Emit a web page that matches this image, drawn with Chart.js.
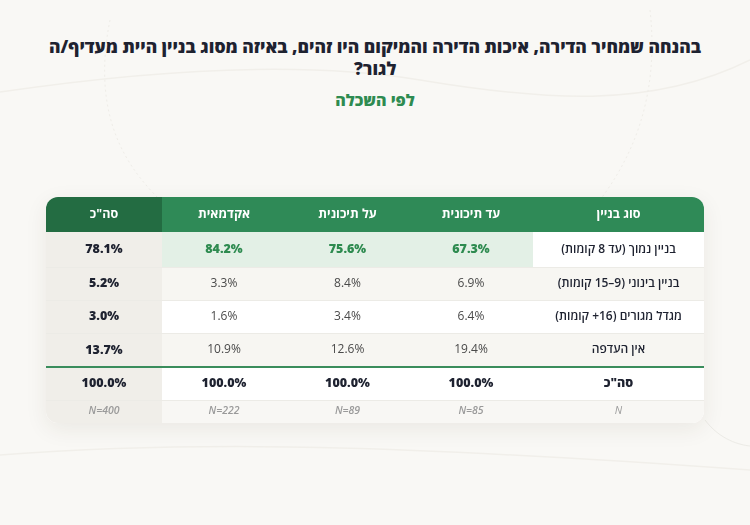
<!DOCTYPE html>
<html lang="he" dir="rtl">
<head>
<meta charset="utf-8">
<script src="https://cdn.jsdelivr.net/npm/chart.js@4.4.0/dist/chart.umd.min.js"></script>
<style>
  body { margin: 0; width: 750px; height: 525px; overflow: hidden; position: relative;
         background: #f9f8f5; font-family: 'Open Sans', 'DejaVu Sans', sans-serif; }
  #deco { position: absolute; left: 0; top: 0; }
  #title { position: absolute; top: 35px; left: 0; width: 750px; text-align: center;
           font-size: 17.5px; font-weight: 800; line-height: 22px; color: #1e2230; }
  #sub { position: absolute; top: 89px; left: 0; width: 750px; text-align: center;
         font-size: 16px; font-weight: 800; color: #2e8b50; }
  #table { position: absolute; left: 0; top: 0; }
</style>
</head>
<body>
<svg id="deco" width="750" height="525">
  <path d="M0 92 C 150 70, 300 60, 420 80 S 650 110, 750 60" fill="none" stroke="#f1efea" stroke-width="1.5"/>
  <path d="M110 20 C 90 120, 130 170, 160 200" fill="none" stroke="#efede8" stroke-width="1" stroke-dasharray="2 3"/>
  <path d="M650 10 C 660 100, 630 160, 600 200" fill="none" stroke="#efede8" stroke-width="1" stroke-dasharray="2 3"/>
  <path d="M0 455 C 200 440, 400 445, 750 470" fill="none" stroke="#f1efea" stroke-width="1.5"/>
  <path d="M705 420 C 720 440, 740 445, 750 446" fill="none" stroke="#ecebe6" stroke-width="1"/>
</svg>
<div id="title">בהנחה שמחיר הדירה, איכות הדירה והמיקום היו זהים, באיזה מסוג בניין היית מעדיף/ה<br>לגור?</div>
<div id="sub">לפי השכלה</div>
<canvas id="table" width="750" height="525"></canvas>
<script>
// columns from left to right (the label column is at the far right)
const groups = ['סה"כ', 'אקדמאית', 'על תיכונית', 'עד תיכונית'];
const labelHeader = 'סוג בניין';
const buildingTypes = ['בניין נמוך (עד 8 קומות)', 'בניין בינוני (9–15 קומות)', 'מגדל מגורים (16+ קומות)', 'אין העדפה'];
const totalLabel = 'סה"כ';
const nLabel = 'N';

// percent per building type, one array per group
const totalAll = [78.1, 5.2, 3.0, 13.7];
const academic = [84.2, 3.3, 1.6, 10.9];
const postSecondary = [75.6, 8.4, 3.4, 12.6];
const upToSecondary = [67.3, 6.9, 6.4, 19.4];
const columnTotals = [100.0, 100.0, 100.0, 100.0];
const sampleSizes = [400, 222, 89, 85];

const groupValues = [totalAll, academic, postSecondary, upToSecondary];

// layout (table units = px)
const colWidths = [116, 124, 123, 124, 171];
const rowHeights = [35, 35, 33, 33, 34, 33, 23];
const colEdges = [0]; colWidths.forEach(w => colEdges.push(colEdges[colEdges.length - 1] + w));
const rowEdges = [0]; rowHeights.forEach(h => rowEdges.push(rowEdges[rowEdges.length - 1] + h));
const colMid = i => (colEdges[i] + colEdges[i + 1]) / 2;
const rowMid = i => (rowEdges[i] + rowEdges[i + 1]) / 2;

const GREEN = '#2f8a57', GREEN_DARK = '#236c42', INK = '#1e2230';
const FONT = "'Open Sans', 'DejaVu Sans', sans-serif";

// one dataset per group: the building-type rows, the total row, the N row
const datasets = groupValues.map((vals, g) => ({
  label: groups[g],
  data: vals.map((v, r) => ({ x: colMid(g), y: rowMid(r + 1), v: v, kind: 'value', row: r }))
    .concat([{ x: colMid(g), y: rowMid(5), v: columnTotals[g], kind: 'total' },
             { x: colMid(g), y: rowMid(6), v: sampleSizes[g], kind: 'n' }]),
  pointRadius: 0
}));

function cellRect(scales, c0, c1, r0, r1) {
  const x0 = scales.x.getPixelForValue(colEdges[c0]), x1 = scales.x.getPixelForValue(colEdges[c1]);
  const y0 = scales.y.getPixelForValue(rowEdges[r0]), y1 = scales.y.getPixelForValue(rowEdges[r1]);
  return [x0, y0, x1 - x0, y1 - y0];
}

const tablePlugin = {
  id: 'tablePlugin',
  beforeDatasetsDraw(chart) {
    const { ctx, chartArea: a, scales } = chart;
    const fill = (color, c0, c1, r0, r1) => { ctx.fillStyle = color; ctx.fillRect(...cellRect(scales, c0, c1, r0, r1)); };
    ctx.save();
    // card with shadow
    ctx.shadowColor = 'rgba(60,50,30,0.08)'; ctx.shadowBlur = 22; ctx.shadowOffsetY = 6;
    ctx.fillStyle = '#ffffff';
    ctx.beginPath(); ctx.roundRect(a.left, a.top, a.width, a.height, 12); ctx.fill();
    ctx.shadowColor = 'transparent';
    ctx.beginPath(); ctx.roundRect(a.left, a.top, a.width, a.height, 12); ctx.clip();

    const nc = colWidths.length;
    // row bands
    fill('#ffffff', 0, nc, 1, 2);
    fill('#e3f0e6', 1, 4, 1, 2);
    fill('#f7f6f2', 0, nc, 2, 3);
    fill('#ffffff', 0, nc, 3, 4);
    fill('#f7f6f2', 0, nc, 4, 5);
    fill('#ffffff', 0, nc, 5, 6);
    fill('#f8f7f4', 0, nc, 6, 7);
    // total column
    fill('#f0eee9', 0, 1, 1, 7);
    // header
    fill(GREEN, 1, nc, 0, 1);
    fill(GREEN_DARK, 0, 1, 0, 1);

    // row separators
    ctx.strokeStyle = '#ecebe6'; ctx.lineWidth = 1;
    [2, 3, 4, 6].forEach(r => {
      const y = Math.round(scales.y.getPixelForValue(rowEdges[r])) + 0.5;
      ctx.beginPath(); ctx.moveTo(a.left, y); ctx.lineTo(a.right, y); ctx.stroke();
    });
    const yg = scales.y.getPixelForValue(rowEdges[5]);
    ctx.strokeStyle = '#3a8d5c'; ctx.lineWidth = 2;
    ctx.beginPath(); ctx.moveTo(a.left, yg); ctx.lineTo(a.right, yg); ctx.stroke();

    // header and row labels
    ctx.textAlign = 'center'; ctx.textBaseline = 'middle'; ctx.direction = 'rtl';
    const lx = scales.x.getPixelForValue(colMid(nc - 1));
    ctx.fillStyle = '#ffffff'; ctx.font = '700 12.5px ' + FONT;
    groups.forEach((g, i) => ctx.fillText(g, scales.x.getPixelForValue(colMid(i)), scales.y.getPixelForValue(rowMid(0))));
    ctx.fillText(labelHeader, lx, scales.y.getPixelForValue(rowMid(0)));
    ctx.fillStyle = INK; ctx.font = '600 12px ' + FONT;
    buildingTypes.forEach((t, r) => ctx.fillText(t, lx, scales.y.getPixelForValue(rowMid(r + 1))));
    ctx.font = '800 12.5px ' + FONT;
    ctx.fillText(totalLabel, lx, scales.y.getPixelForValue(rowMid(5)));
    ctx.fillStyle = '#9a9a9a'; ctx.font = 'italic 10.5px ' + FONT;
    ctx.fillText(nLabel, lx, scales.y.getPixelForValue(rowMid(6)));
    ctx.restore();
  },
  afterDatasetsDraw(chart) {
    const { ctx } = chart;
    ctx.save();
    ctx.textAlign = 'center'; ctx.textBaseline = 'middle'; ctx.direction = 'ltr';
    chart.data.datasets.forEach((ds, g) => {
      chart.getDatasetMeta(g).data.forEach((el, i) => {
        const d = ds.data[i];
        let text = d.v.toFixed(1) + '%';
        if (d.kind === 'n') {
          text = 'N=' + d.v; ctx.fillStyle = '#9a9a9a'; ctx.font = 'italic 600 10.5px ' + FONT;
        } else if (d.kind === 'total' || g === 0) {
          ctx.fillStyle = INK; ctx.font = '800 12.5px ' + FONT;
        } else if (d.row === 0) {
          ctx.fillStyle = '#2e8b50'; ctx.font = '800 12.5px ' + FONT;
        } else {
          ctx.fillStyle = '#4a4a4a'; ctx.font = '400 12px ' + FONT;
        }
        ctx.fillText(text, el.x, el.y);
      });
    });
    ctx.restore();
  }
};

new Chart(document.getElementById('table').getContext('2d'), {
  type: 'scatter',
  data: { datasets: datasets },
  options: {
    responsive: false,
    animation: false,
    events: [],
    layout: { padding: { left: 46, right: 46, top: 197, bottom: 102 } },
    scales: {
      x: { type: 'linear', display: false, min: 0, max: colEdges[colEdges.length - 1] },
      y: { type: 'linear', display: false, min: 0, max: rowEdges[rowEdges.length - 1], reverse: true }
    },
    plugins: { legend: { display: false }, tooltip: { enabled: false } }
  },
  plugins: [tablePlugin]
});
</script>
</body>
</html>
